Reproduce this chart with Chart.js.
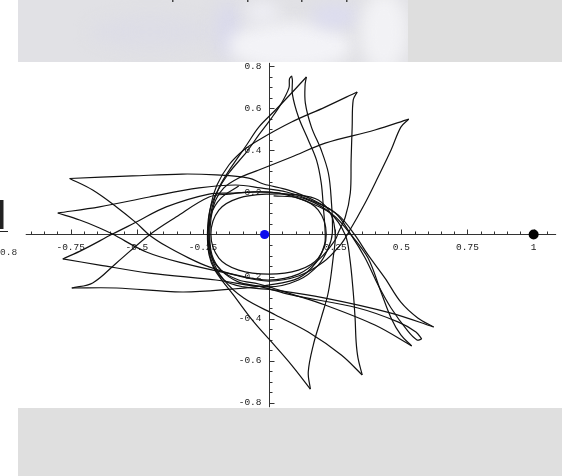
<!DOCTYPE html>
<html>
<head>
<meta charset="utf-8">
<script src="https://cdn.jsdelivr.net/npm/chart.js@4.4.1/dist/chart.umd.min.js"></script>
<style>
  html, body { margin: 0; padding: 0; background: #fff; }
  #wrap { position: relative; width: 562px; height: 476px; }
</style>
</head>
<body>
<div id="wrap"><canvas id="orbitChart" width="562" height="476"></canvas></div>
<script>
// trajectory legs, cusp to cusp, in rotating-frame units
const legStart = [[-0.115,0.230],[-0.182,0.173],[-0.220,0.093],[-0.231,-0.026],[-0.216,-0.131],[-0.171,-0.216],[-0.096,-0.249],[0.024,-0.264],[0.212,-0.302],[0.461,-0.373],[0.622,-0.439]];
const legEL = [[0.622,-0.439],[0.562,-0.396],[0.498,-0.321],[0.438,-0.207],[0.374,-0.097],[0.324,-0.002],[0.261,0.093],[0.167,0.164],[0.073,0.211],[-0.021,0.240],[-0.077,0.268],[-0.201,0.283],[-0.329,0.287],[-0.517,0.278],[-0.754,0.266]];
const legLD = [[-0.754,0.266],[-0.667,0.211],[-0.577,0.131],[-0.502,0.055],[-0.453,-0.002],[-0.389,-0.055],[-0.303,-0.112],[-0.227,-0.154],[-0.115,-0.197],[-0.002,-0.221],[0.111,-0.197],[0.205,-0.131],[0.269,-0.050],[0.299,0.007],[0.363,0.150],[0.412,0.273],[0.461,0.401],[0.498,0.510],[0.528,0.548]];
const legDF = [[0.528,0.548],[0.400,0.496],[0.212,0.434],[0.085,0.368],[-0.039,0.306],[-0.115,0.268],[-0.171,0.221],[-0.209,0.140],[-0.224,0.007],[-0.216,-0.097],[-0.182,-0.169],[-0.115,-0.226],[-0.039,-0.245],[0.085,-0.287],[0.336,-0.349],[0.487,-0.415],[0.555,-0.463],[0.577,-0.496]];
const legFM = [[0.577,-0.496],[0.559,-0.501],[0.524,-0.458],[0.461,-0.349],[0.412,-0.240],[0.363,-0.112],[0.310,-0.002],[0.250,0.102],[0.156,0.164],[0.066,0.202],[-0.032,0.221],[-0.126,0.235],[-0.265,0.221],[-0.453,0.178],[-0.641,0.131],[-0.799,0.102]];
const legMC = [[-0.799,0.102],[-0.716,0.069],[-0.641,0.031],[-0.592,0.002],[-0.464,-0.083],[-0.329,-0.135],[-0.126,-0.192],[-0.002,-0.216],[0.111,-0.188],[0.194,-0.112],[0.250,-0.026],[0.261,0.007],[0.288,0.083],[0.307,0.197],[0.310,0.354],[0.314,0.510],[0.318,0.639],[0.333,0.677]];
const legCG = [[0.333,0.677],[0.212,0.605],[0.085,0.534],[-0.039,0.449],[-0.096,0.401],[-0.152,0.330],[-0.197,0.235],[-0.220,0.140],[-0.231,0.007],[-0.220,-0.097],[-0.182,-0.169],[-0.115,-0.216],[-0.039,-0.235],[0.085,-0.283],[0.212,-0.335],[0.400,-0.430],[0.539,-0.529]];
const legGK = [[0.539,-0.529],[0.498,-0.477],[0.461,-0.396],[0.423,-0.273],[0.374,-0.112],[0.310,-0.002],[0.242,0.093],[0.148,0.154],[0.055,0.192],[-0.032,0.202],[-0.133,0.197],[-0.227,0.192],[-0.389,0.131],[-0.502,0.059],[-0.592,0.002],[-0.705,-0.073],[-0.780,-0.116]];
const legKB = [[-0.780,-0.116],[-0.641,-0.145],[-0.453,-0.183],[-0.201,-0.216],[-0.002,-0.249],[0.111,-0.216],[0.186,-0.145],[0.224,-0.064],[0.239,0.007],[0.235,0.164],[0.224,0.292],[0.197,0.401],[0.160,0.510],[0.137,0.624],[0.136,0.710],[0.141,0.748]];
const legBH = [[0.141,0.748],[0.085,0.672],[0.024,0.591],[-0.039,0.510],[-0.085,0.425],[-0.145,0.316],[-0.190,0.221],[-0.216,0.126],[-0.227,0.007],[-0.216,-0.112],[-0.171,-0.216],[-0.096,-0.302],[0.024,-0.382],[0.148,-0.463],[0.273,-0.572],[0.352,-0.667]];
const legHJ = [[0.352,-0.667],[0.336,-0.586],[0.329,-0.510],[0.325,-0.396],[0.318,-0.273],[0.305,-0.112],[0.288,-0.002],[0.231,0.102],[0.137,0.169],[0.036,0.197],[-0.058,0.202],[-0.152,0.192],[-0.227,0.178],[-0.352,0.083],[-0.453,-0.002],[-0.577,-0.135],[-0.667,-0.230],[-0.746,-0.254]];
const legJA = [[-0.746,-0.254],[-0.577,-0.254],[-0.329,-0.273],[-0.141,-0.259],[-0.002,-0.240],[0.111,-0.207],[0.179,-0.131],[0.209,-0.050],[0.212,0.007],[0.205,0.131],[0.197,0.245],[0.179,0.354],[0.148,0.449],[0.111,0.558],[0.088,0.667],[0.088,0.734],[0.085,0.753]];
const legAI = [[0.085,0.753],[0.077,0.739],[0.075,0.696],[0.047,0.624],[0.009,0.553],[-0.039,0.473],[-0.085,0.392],[-0.152,0.292],[-0.197,0.202],[-0.224,0.116],[-0.233,0.007],[-0.227,-0.097],[-0.205,-0.169],[-0.126,-0.302],[-0.058,-0.415],[0.009,-0.510],[0.085,-0.620],[0.156,-0.734]];
const legEnd = [[0.156,-0.734],[0.148,-0.653],[0.167,-0.525],[0.197,-0.396],[0.224,-0.273],[0.242,-0.112],[0.250,-0.002],[0.235,0.093],[0.186,0.164],[0.111,0.188],[-0.002,0.192],[-0.115,0.173],[-0.190,0.116],[-0.220,0.002],[-0.190,-0.112],[-0.115,-0.169],[-0.002,-0.188],[0.111,-0.169],[0.186,-0.112],[0.216,0.002],[0.186,0.116],[0.111,0.173],[0.017,0.183]];

const earth = [-0.017, 0];
const moon = [1, 0];

const xTicks = [-0.75, -0.5, -0.25, 0.25, 0.5, 0.75, 1];
const yTicks = [-0.8, -0.6, -0.4, -0.2, 0.2, 0.4, 0.6, 0.8];

const legs = [legStart, legEL, legLD, legDF, legFM, legMC, legCG, legGK, legKB, legBH, legHJ, legJA, legAI, legEnd];
const toXY = arr => arr.map(p => ({ x: p[0], y: p[1] }));

const tickFont = '9.5px "Liberation Mono"';

// axes crossing at the origin, Mathematica style
const axesPlugin = {
  id: 'axes',
  beforeDraw(chart) {
    const ctx = chart.ctx;
    ctx.save();
    ctx.fillStyle = '#ffffff';
    ctx.fillRect(0, 0, 562, 476);
    // grey strips above and below
    ctx.fillStyle = '#dfdfdf';
    ctx.fillRect(18, 408, 544, 68);
    ctx.fillStyle = '#dedede';
    ctx.fillRect(408, 0, 154, 62);
    ctx.beginPath();
    ctx.rect(18, 0, 390, 62);
    ctx.clip();
    ctx.fillStyle = '#e1e1e5';
    ctx.fillRect(18, 0, 390, 62);
    ctx.filter = 'blur(8px)';
    const blobs = [
      [150, 32, 60, 16, '#dddde6'],
      [228, 30, 14, 28, '#dadaeb'],
      [290, 46, 62, 24, '#f3f3f7'],
      [335, 16, 24, 12, '#dcdcef'],
      [384, 32, 24, 40, '#f2f2f5'],
      [262, 12, 18, 10, '#efeff5']
    ];
    blobs.forEach(b => {
      ctx.fillStyle = b[4];
      ctx.beginPath();
      ctx.ellipse(b[0], b[1], b[2], b[3], 0, 0, Math.PI * 2);
      ctx.fill();
    });
    ctx.restore();

    ctx.save();
    ctx.fillStyle = '#444';
    [172, 247, 301, 346].forEach(x => ctx.fillRect(x, 0, 1.5, 2));
    // cut-off neighbour graphic at the left edge
    ctx.fillStyle = '#222';
    ctx.fillRect(0, 200, 3.5, 29);
    ctx.fillRect(0, 231, 8, 1);
    ctx.font = tickFont;
    ctx.fillStyle = '#333';
    ctx.textAlign = 'left';
    ctx.textBaseline = 'middle';
    ctx.fillText('0.8', 0, 252);
    ctx.restore();
  },
  beforeDatasetsDraw(chart) {
    const ctx = chart.ctx;
    const xs = chart.scales.x, ys = chart.scales.y;
    const x0 = Math.round(xs.getPixelForValue(0) - 0.5) + 0.5;
    const y0 = Math.round(ys.getPixelForValue(0) - 0.5) + 0.5;
    ctx.save();
    ctx.strokeStyle = '#333';
    ctx.lineWidth = 1;
    ctx.beginPath();
    ctx.moveTo(xs.getPixelForValue(-0.92), y0);
    ctx.lineTo(xs.getPixelForValue(1.085), y0);
    ctx.moveTo(x0, ys.getPixelForValue(0.815));
    ctx.lineTo(x0, ys.getPixelForValue(-0.82));
    // minor ticks every 0.05, longer on the labelled values
    for (let i = -18; i <= 21; i++) {
      const v = i * 0.05;
      const major = i % 5 === 0;
      const px = Math.round(xs.getPixelForValue(v)) + 0.5;
      ctx.moveTo(px, y0);
      ctx.lineTo(px, y0 - (major ? 5 : 3));
    }
    for (let i = -16; i <= 16; i++) {
      const v = i * 0.05;
      const major = i % 4 === 0;
      const py = Math.round(ys.getPixelForValue(v)) + 0.5;
      ctx.moveTo(x0, py);
      ctx.lineTo(x0 + (major ? 5 : 3), py);
    }
    ctx.stroke();

    ctx.font = tickFont;
    ctx.fillStyle = '#1a1a1a';
    ctx.textBaseline = 'middle';
    ctx.textAlign = 'center';
    xTicks.forEach(v => ctx.fillText(String(v), xs.getPixelForValue(v), y0 + 13));
    ctx.textAlign = 'right';
    yTicks.forEach(v => ctx.fillText(String(v), x0 - 8, ys.getPixelForValue(v)));
    ctx.restore();
  }
};

const datasets = legs.map(leg => ({
  data: toXY(leg),
  showLine: true,
  borderColor: '#111',
  borderWidth: 1.2,
  pointRadius: 0,
  tension: 0.35,
  borderJoinStyle: 'round'
}));
datasets.push({
  data: toXY([earth]),
  pointRadius: 4.6,
  pointBackgroundColor: '#0a0aee',
  pointBorderWidth: 0,
  showLine: false
});
datasets.push({
  data: toXY([moon]),
  pointRadius: 5,
  pointBackgroundColor: '#000',
  pointBorderWidth: 0,
  showLine: false
});

new Chart(document.getElementById('orbitChart').getContext('2d'), {
  type: 'scatter',
  data: { datasets: datasets },
  options: {
    responsive: false,
    animation: false,
    events: [],
    layout: { padding: { left: 20, right: 2, top: 62, bottom: 68 } },
    scales: {
      x: { type: 'linear', min: -0.94173, max: 1.08835, display: false },
      y: { type: 'linear', min: -0.82384, max: 0.81909, display: false }
    },
    plugins: {
      legend: { display: false },
      tooltip: { enabled: false }
    }
  },
  plugins: [axesPlugin]
});
</script>
</body>
</html>
